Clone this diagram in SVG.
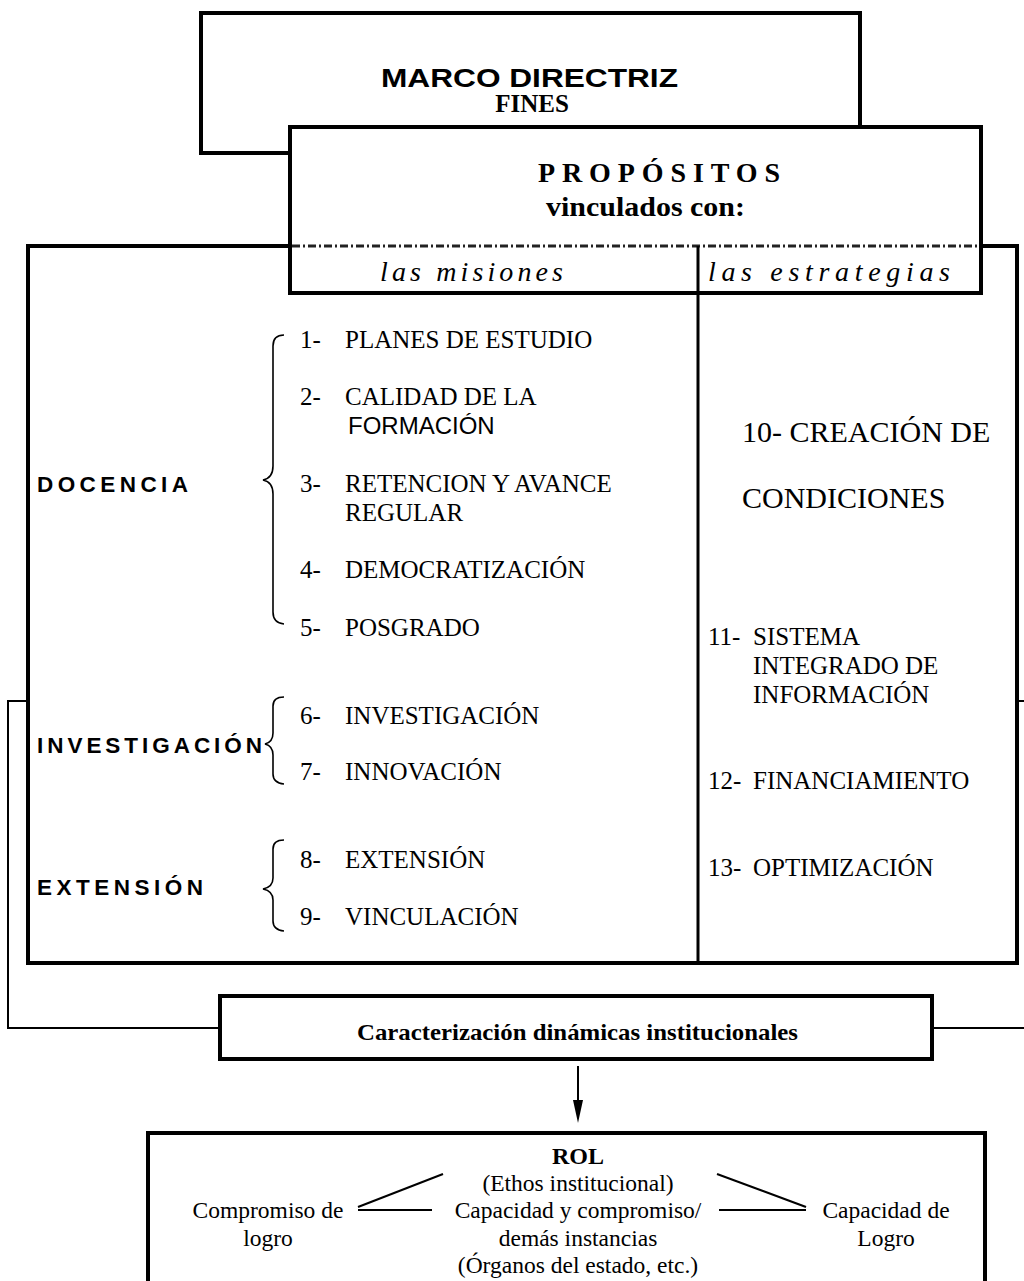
<svg xmlns="http://www.w3.org/2000/svg" width="1024" height="1281" viewBox="0 0 1024 1281">
<style>
.box{fill:#fff;stroke:#000;stroke-width:4}
.thin{fill:none;stroke:#000;stroke-width:2}
.brace{fill:none;stroke:#000;stroke-width:1.6}
.serif{font-family:"Liberation Serif","Times New Roman",serif;fill:#000}
.sans{font-family:"Liberation Sans",Arial,sans-serif;fill:#000}
.item{font-size:25px}
.rt{font-size:25px}
.mis{font-size:28px;font-style:italic}
.cat{font-size:22.5px;font-weight:bold}
.bot{font-size:23.5px}
</style>

<g id="marco-propositos-frame">
<rect id="big-frame" class="box" x="28" y="246" width="989" height="717"/>
</g>

<g id="marco-directriz">
<rect class="box" x="201" y="13" width="659" height="140"/>
<text class="sans" x="381" y="87" font-size="25" font-weight="bold" textLength="297" lengthAdjust="spacingAndGlyphs">MARCO DIRECTRIZ</text>
<text class="serif" x="532" y="112" font-size="25" font-weight="bold" text-anchor="middle">FINES</text>
</g>

<g id="propositos">
<rect class="box" x="290" y="127" width="691" height="166"/>
<text class="serif" x="538" y="182" font-size="28" font-weight="bold" textLength="242" lengthAdjust="spacing">PROPÓSITOS</text>
<text class="serif" x="546" y="216" font-size="28" font-weight="bold" textLength="199" lengthAdjust="spacingAndGlyphs">vinculados con:</text>
<line x1="292" y1="246" x2="979" y2="246" stroke="#222" stroke-width="3" stroke-dasharray="8 3 2 3"/>
<text class="serif mis" x="380" y="281" textLength="183" lengthAdjust="spacing">las misiones</text>
<text class="serif mis" x="708" y="281" textLength="242" lengthAdjust="spacing">las estrategias</text>
</g>

<g id="divider">
<line x1="698" y1="246" x2="698" y2="963" stroke="#000" stroke-width="3"/>
</g>

<g id="docencia">
<text class="sans cat" x="37" y="492" textLength="151" lengthAdjust="spacing">DOCENCIA</text>
<path class="brace" d="M284,335 Q273,335 273,346 L273,466 Q273,478 263,480 Q273,482 273,494 L273,612 Q273,623 284,624"/>
<text class="serif item" x="300" y="348">1-</text><text class="serif item" x="345" y="348">PLANES DE ESTUDIO</text>
<text class="serif item" x="300" y="405">2-</text><text class="serif item" x="345" y="405">CALIDAD DE LA</text>
<text class="sans" x="348" y="434" font-size="24">FORMACIÓN</text>
<text class="serif item" x="300" y="492">3-</text><text class="serif item" x="345" y="492">RETENCION Y AVANCE</text>
<text class="serif item" x="345" y="521">REGULAR</text>
<text class="serif item" x="300" y="578">4-</text><text class="serif item" x="345" y="578">DEMOCRATIZACIÓN</text>
<text class="serif item" x="300" y="636">5-</text><text class="serif item" x="345" y="636">POSGRADO</text>
</g>

<g id="investigacion">
<text class="sans cat" x="37" y="753" textLength="225" lengthAdjust="spacing">INVESTIGACIÓN</text>
<path class="brace" d="M284,697 Q273,697 273,706 L273,733 Q273,742 265,744 Q273,746 273,755 L273,774 Q273,783 284,784"/>
<text class="serif item" x="300" y="724">6-</text><text class="serif item" x="345" y="724">INVESTIGACIÓN</text>
<text class="serif item" x="300" y="780">7-</text><text class="serif item" x="345" y="780">INNOVACIÓN</text>
</g>

<g id="extension">
<text class="sans cat" x="37" y="895" textLength="166" lengthAdjust="spacing">EXTENSIÓN</text>
<path class="brace" d="M284,840 Q273,840 273,849 L273,878 Q273,887 263,889 Q273,891 273,900 L273,921 Q273,930 284,931"/>
<text class="serif item" x="300" y="868">8-</text><text class="serif item" x="345" y="868">EXTENSIÓN</text>
<text class="serif item" x="300" y="925">9-</text><text class="serif item" x="345" y="925">VINCULACIÓN</text>
</g>

<g id="estrategias">
<text class="serif" x="742" y="442" font-size="30">10- CREACIÓN DE</text>
<text class="serif" x="742" y="508" font-size="30">CONDICIONES</text>
<text class="serif rt" x="708" y="645">11-</text><text class="serif rt" x="753" y="645">SISTEMA</text>
<text class="serif rt" x="753" y="674">INTEGRADO DE</text>
<text class="serif rt" x="753" y="703">INFORMACIÓN</text>
<text class="serif rt" x="708" y="789">12-</text><text class="serif rt" x="753" y="789">FINANCIAMIENTO</text>
<text class="serif rt" x="708" y="876">13-</text><text class="serif rt" x="753" y="876">OPTIMIZACIÓN</text>
</g>

<g id="caracterizacion">
<rect class="box" x="220" y="996" width="712" height="63"/>
<text class="serif" x="357" y="1040" font-size="23" font-weight="bold" textLength="441" lengthAdjust="spacingAndGlyphs">Caracterización dinámicas institucionales</text>
</g>

<g id="rol">
<rect class="box" x="148" y="1133" width="837" height="160"/>
<text class="serif" x="578" y="1164" font-size="24" font-weight="bold" text-anchor="middle">ROL</text>
<text class="serif bot" x="578" y="1191" text-anchor="middle">(Ethos institucional)</text>
<text class="serif bot" x="578" y="1218" text-anchor="middle">Capacidad y compromiso/</text>
<text class="serif bot" x="578" y="1246" text-anchor="middle">demás instancias</text>
<text class="serif bot" x="578" y="1273" text-anchor="middle">(Órganos del estado, etc.)</text>
<text class="serif bot" x="268" y="1218" text-anchor="middle">Compromiso de</text>
<text class="serif bot" x="268" y="1246" text-anchor="middle">logro</text>
<text class="serif bot" x="886" y="1218" text-anchor="middle">Capacidad de</text>
<text class="serif bot" x="886" y="1246" text-anchor="middle">Logro</text>
<line class="thin" x1="358" y1="1207" x2="443" y2="1174"/>
<line class="thin" x1="358" y1="1210" x2="432" y2="1210"/>
<line class="thin" x1="717" y1="1174" x2="806" y2="1207"/>
<line class="thin" x1="719" y1="1210" x2="806" y2="1210"/>
</g>

<g id="connectors">
<polyline class="thin" points="28,701 8,701 8,1028 220,1028"/>
<polyline class="thin" points="1017,701 1024,701"/>
<polyline class="thin" points="932,1028 1024,1028"/>
<line x1="578" y1="1066" x2="578" y2="1102" stroke="#000" stroke-width="2"/>
<path d="M573,1100 L583,1100 L578,1123 Z" fill="#000"/>
</g>
</svg>
